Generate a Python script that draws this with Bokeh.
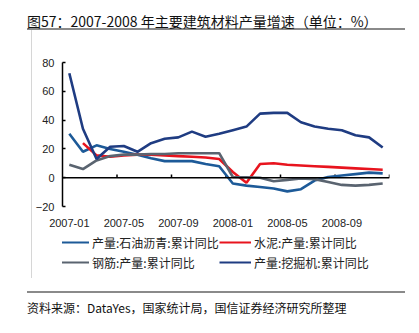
from bokeh.plotting import figure
from bokeh.models import (ColumnDataSource, Span, Legend, LegendItem,
                          FixedTicker, LinearAxis, Range1d, Div)
from bokeh.layouts import column, row
from bokeh.embed import file_html
from bokeh.resources import INLINE
import numpy as np

months = ["2007-01", "2007-02", "2007-03", "2007-04", "2007-05", "2007-06",
          "2007-07", "2007-08", "2007-09", "2007-10", "2007-11", "2007-12",
          "2008-01", "2008-02", "2008-03", "2008-04", "2008-05", "2008-06",
          "2008-07", "2008-08", "2008-09", "2008-10", "2008-11", "2008-12"]
tick_labels = ["2007-01", "2007-05", "2007-09", "2008-01", "2008-05", "2008-09"]

asphalt = [30.5, 18, 22.5, 20, 18, 16, 13.5, 11.5, 11.5, 11.5, 9.5, 8,
           -4, -5.5, -6.5, -7.5, -9.5, -8, -2, 0.5, 1.5, 2.5, 3.5, 3]
cement = [np.nan, 24, 15.5, 14.5, 15.5, 16, 16, 15.5, 15, 14.5, 14, 13,
          4, -3.5, 9.5, 10, 9, 8.5, 8, 7.5, 7, 6.5, 6, 5.5]
rebar = [9, 6, 12, 15, 16, 16, 16.5, 16.5, 17, 17, 17, 17,
         0.5, 0.3, 0, -2.5, -1.5, -0.5, -1, -3, -5, -5.5, -5, -4]
excavator = [72.5, 34, 13, 21.5, 22, 18, 24, 27, 28, 32, 28.5, 30.5,
             33, 35.5, 44.5, 45, 45, 38.5, 35.5, 34, 33, 29.5, 28, 21]

names = ["产量:石油沥青:累计同比", "水泥:产量:累计同比",
         "钢筋:产量:累计同比", "产量:挖掘机:累计同比"]
colors = ["#1D5A98", "#E8141E", "#5A6470", "#1F3C82"]
keys = ["asphalt", "cement", "rebar", "excavator"]

title_text = "图57：2007-2008 年主要建筑材料产量增速（单位：%）"
source_text = "资料来源：DataYes，国家统计局，国信证券经济研究所整理"

xpos = [i + 0.5 for i in range(len(months))]
src = ColumnDataSource(dict(x=xpos, asphalt=asphalt, cement=cement,
                            rebar=rebar, excavator=excavator))

CJK = "Noto Sans CJK SC"
LAT = "Liberation Sans"

# ---- main chart ----
p = figure(width=387, height=200, output_backend="svg", toolbar_location=None,
           x_range=Range1d(0, 24), y_range=Range1d(-20, 80),
           min_border_left=28, min_border_right=30,
           min_border_top=32, min_border_bottom=24,
           x_axis_location=None, y_axis_location=None, margin=0)
p.outline_line_color = None
p.xgrid.visible = False
p.ygrid.visible = False
p.background_fill_color = "white"
p.border_fill_color = "white"

yaxis = LinearAxis(ticker=FixedTicker(ticks=[-20, 0, 20, 40, 60, 80]))
yaxis.major_tick_in = 3
yaxis.major_tick_out = 0
yaxis.minor_tick_line_color = None
yaxis.axis_line_color = "black"
yaxis.axis_line_width = 1.5
yaxis.major_tick_line_width = 1.5
yaxis.major_label_text_font = LAT
yaxis.major_label_text_font_size = "11px"
yaxis.major_label_text_color = "#222222"
yaxis.major_label_standoff = 8
p.add_layout(yaxis, "left")

tick_pos = [0.5 + 4 * k for k in range(len(tick_labels))]
xaxis = LinearAxis(ticker=FixedTicker(ticks=tick_pos),
                   major_label_overrides={t: l for t, l in zip(tick_pos, tick_labels)})
xaxis.axis_line_color = None
xaxis.major_tick_line_color = None
xaxis.minor_tick_line_color = None
xaxis.major_label_text_font = LAT
xaxis.major_label_text_font_size = "11px"
xaxis.major_label_text_color = "#222222"
xaxis.major_label_standoff = 6
p.add_layout(xaxis, "below")

p.add_layout(Span(location=0, dimension="width", line_color="black", line_width=1.5))
bnd = [4, 8, 12, 16, 20, 24]
p.segment(x0=bnd, y0=[0] * len(bnd), x1=bnd, y1=[2.2] * len(bnd),
          line_color="black", line_width=1.5)

for key, col in zip(keys, colors):
    p.line("x", key, source=src, line_color=col, line_width=2.6)

# ---- legend strip (its frame is aligned with the chart's frame) ----
pl = figure(width=387, height=61, output_backend="svg", toolbar_location=None,
            x_range=Range1d(-10, -9), y_range=Range1d(0, 1),
            min_border_left=28, min_border_right=30, min_border_top=0,
            min_border_bottom=0, x_axis_location=None, y_axis_location=None,
            margin=0)
pl.outline_line_color = None
pl.xgrid.visible = False
pl.ygrid.visible = False
pl.border_fill_color = "white"
# same series, drawn outside this strip's visible range: only their legend glyphs show
leg_r = [pl.line("x", key, source=src, line_color=c, line_width=2.2)
         for key, c in zip(keys, colors)]
for k, yloc in enumerate([40, 20]):
    lg = Legend(items=[LegendItem(label=names[2 * k + j], renderers=[leg_r[2 * k + j]])
                       for j in range(2)],
                location=(-5, yloc), orientation="horizontal",
                glyph_width=32, glyph_height=18, label_width=127, label_height=18,
                label_standoff=3, padding=0, margin=0, spacing=0,
                border_line_color=None, background_fill_alpha=0,
                label_text_font=CJK, label_text_font_size="12px",
                label_text_color="#222222")
    pl.add_layout(lg, "center")

# ---- frame decorations, title and source ----
title_div = Div(text=f'<div style="margin-left:27px;width:378px;height:30px;box-sizing:border-box;'
                     f'padding-top:12px;border-bottom:2px solid #8a8a8a;font-family:\'{CJK}\';'
                     f'font-size:14px;line-height:18px;color:#111;white-space:nowrap;">{title_text}</div>',
                width=419, height=30, margin=0)
side_div = Div(text='<div style="margin-left:31px;width:1px;height:248px;background:#d6d6d6;"></div>',
               width=32, height=261, margin=0)
foot_div = Div(text=f'<div style="margin-left:27px;width:378px;height:42px;box-sizing:border-box;'
                    f'padding-top:6px;border-top:2px solid #8a8a8a;font-family:\'{CJK}\';'
                    f'font-size:12px;line-height:17px;color:#111;white-space:nowrap;">{source_text}</div>',
               width=419, height=42, margin=0)

layout = column(title_div,
                row(side_div, column(p, pl, spacing=0, margin=0), spacing=0, margin=0),
                foot_div, spacing=0, margin=0)

open("out.html", "w").write(file_html(layout, INLINE))
